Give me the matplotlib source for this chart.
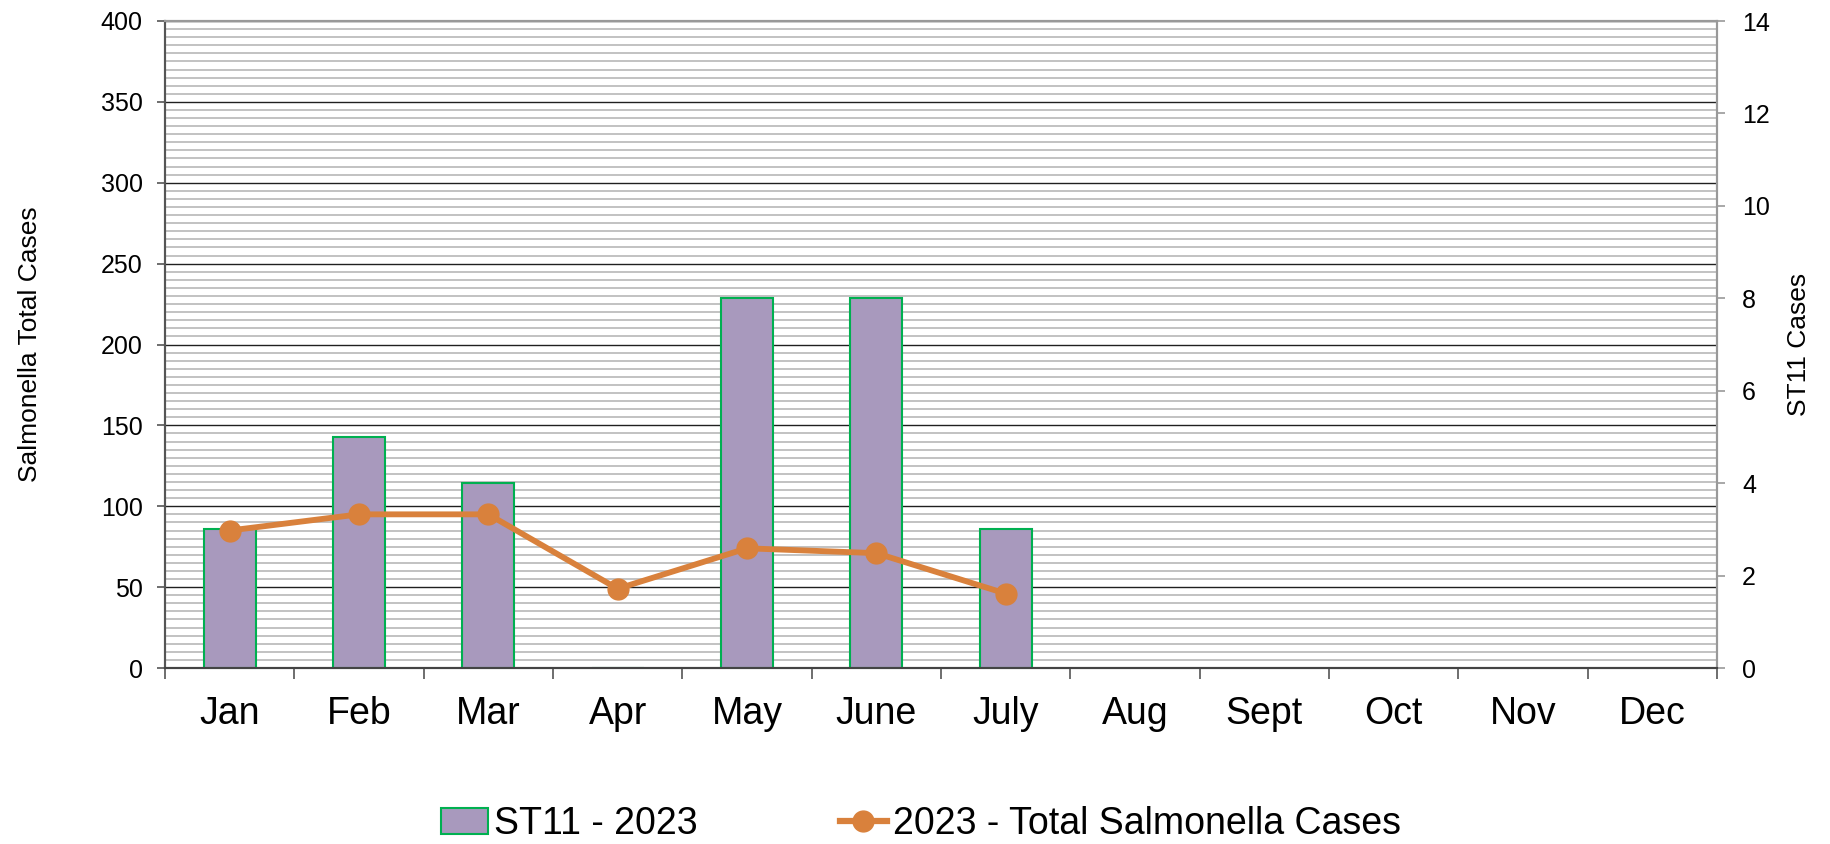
import matplotlib.pyplot as plt
from matplotlib.ticker import MultipleLocator, FixedLocator, NullFormatter
from matplotlib.patches import Patch
from matplotlib.lines import Line2D
import numpy as np

plt.rcParams['font.family'] = ['Liberation Sans', 'DejaVu Sans']

months = ["Jan", "Feb", "Mar", "Apr", "May", "June", "July",
          "Aug", "Sept", "Oct", "Nov", "Dec"]
st11_2023 = [3, 5, 4, 0, 8, 8, 3]             # right axis, bars
total_2023 = [85, 95, 95, 49, 74, 71, 46]     # left axis, line

bar_face = "#a899bd"
bar_edge = "#00b050"
line_col = "#d9813c"

fig = plt.figure(figsize=(18.3, 8.44), dpi=100)
ax = fig.add_axes([165 / 1830, 1 - 668 / 844, (1717 - 165) / 1830, (668 - 21) / 844])
ax2 = ax.twinx()

x = np.arange(len(months))

# grid on the left axis (behind the bars)
ax.set_ylim(0, 400)
ax.set_xlim(-0.5, len(months) - 0.5)
ax.yaxis.set_major_locator(MultipleLocator(50))
ax.yaxis.set_minor_locator(MultipleLocator(5))
ax.grid(which="minor", axis="y", color="#bdbdbd", lw=1.3)
ax.grid(which="major", axis="y", color="#202020", lw=1.0)
ax.tick_params(axis="y", which="minor", length=0)
ax.tick_params(axis="y", which="major", length=6, width=1.2, color="#555555",
               labelsize=18, pad=10)

# x ticks on the category boundaries, labels centred
ax.xaxis.set_major_locator(FixedLocator(np.arange(-0.5, len(months), 1.0)))
ax.xaxis.set_major_formatter(NullFormatter())
ax.xaxis.set_minor_locator(FixedLocator(x))
ax.set_xticks(x, months, minor=True)
ax.tick_params(axis="x", which="major", length=8, width=1.2, color="#555555")
ax.tick_params(axis="x", which="minor", length=0, labelsize=27, pad=20)

# bars on the right axis
ax2.set_ylim(0, 14)
ax2.bar(x[:len(st11_2023)], st11_2023, width=0.4, color=bar_face,
        edgecolor=bar_edge, lw=1.5, zorder=2)
ax2.yaxis.set_major_locator(MultipleLocator(2))
ax2.tick_params(axis="y", length=6, width=1.2, color="#999999", labelsize=18, pad=12)

# line uses the left scale but is drawn above the bars
ax2.plot(x[:len(total_2023)], total_2023, transform=ax.transData, color=line_col,
         lw=4.2, marker="o", ms=15, zorder=3, clip_on=False)

for a in (ax, ax2):
    a.spines["left"].set_color("#555555")
    a.spines["bottom"].set_color("#444444")
    a.spines["top"].set_color("#999999")
    a.spines["right"].set_color("#999999")
    for s in a.spines.values():
        s.set_linewidth(1.5)

ax.set_ylabel("Salmonella Total Cases", fontsize=19)
ax2.set_ylabel("ST11 Cases", fontsize=19, labelpad=12)
ax.yaxis.set_label_coords(-0.079, 0.5)

handles = [Patch(facecolor=bar_face, edgecolor=bar_edge, lw=1.5),
           Line2D([], [], color=line_col, lw=4.5, marker="o", ms=15)]
fig.legend(handles, ["ST11 - 2023", "2023 - Total Salmonella Cases"],
           loc="center", bbox_to_anchor=(921 / 1830, 1 - 824 / 844), ncol=2,
           frameon=False, fontsize=27, handlelength=1.25, handletextpad=0.15,
           columnspacing=3.8)

fig.savefig("out.png", dpi=100)
